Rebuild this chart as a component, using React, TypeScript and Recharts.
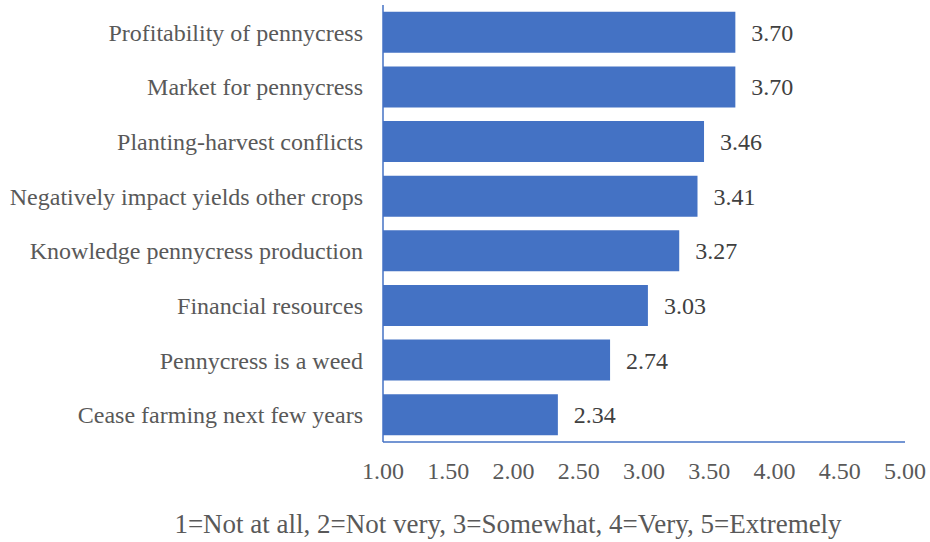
import { BarChart, Bar, XAxis, YAxis, LabelList, Label } from "recharts";

const categories = [
  "Profitability of pennycress",
  "Market for pennycress",
  "Planting-harvest conflicts",
  "Negatively impact yields other crops",
  "Knowledge pennycress production",
  "Financial resources",
  "Pennycress is a weed",
  "Cease farming next few years",
];
const scores = [3.7, 3.7, 3.46, 3.41, 3.27, 3.03, 2.74, 2.34];
const xTicks = [1, 1.5, 2, 2.5, 3, 3.5, 4, 4.5, 5];
const caption = "1=Not at all, 2=Not very, 3=Somewhat, 4=Very, 5=Extremely";

const data = categories.map((name, i) => ({ name, score: scores[i] }));

const font = "'Liberation Serif', 'Times New Roman', serif";
const blue = "#4472C4";

const App = () => {
  return (
    <div style={{ position: "absolute", left: 0, top: 0, fontFamily: font }}>
      <BarChart
        width={930}
        height={542}
        data={data}
        layout="vertical"
        margin={{ top: 5, right: 25, bottom: 0, left: 0 }}
        barCategoryGap="12.5%"
      >
        <XAxis
          type="number"
          domain={[1, 5]}
          ticks={xTicks}
          tickFormatter={(v) => v.toFixed(2)}
          axisLine={{ stroke: blue, strokeWidth: 1.5 }}
          tickLine={false}
          tickSize={0}
          tickMargin={20}
          height={100}
          tick={{ fill: "#595959", fontSize: 24, fontFamily: font }}
          allowDataOverflow
        >
          <Label
            value={caption}
            position="insideBottom"
            offset={9}
            dx={-136}
            fontSize={27}
            fontFamily={font}
            fill="#595959"
          />
        </XAxis>
        <YAxis
          type="category"
          dataKey="name"
          width={383}
          interval={0}
          axisLine={{ stroke: blue, strokeWidth: 1.5 }}
          tickLine={false}
          tickSize={0}
          tickMargin={20}
          tick={{ fill: "#595959", fontSize: 24, fontFamily: font }}
        />
        <Bar dataKey="score" fill={blue} isAnimationActive={false}>
          <LabelList
            dataKey="score"
            position="right"
            offset={16}
            formatter={(v: number) => v.toFixed(2)}
            fontSize={24}
            fontFamily={font}
            fill="#404040"
          />
        </Bar>
      </BarChart>
    </div>
  );
};

export default App;
